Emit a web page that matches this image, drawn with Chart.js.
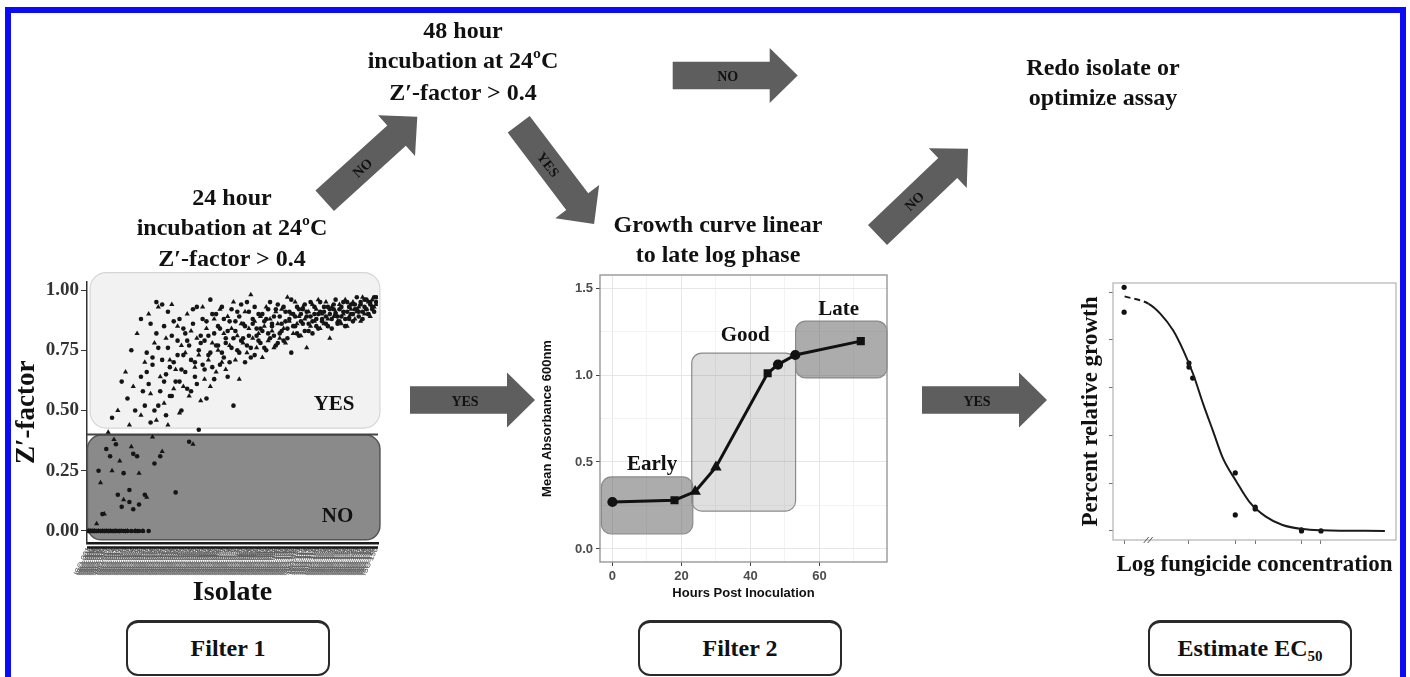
<!DOCTYPE html>
<html>
<head>
<meta charset="utf-8">
<script src="https://cdn.jsdelivr.net/npm/chart.js@4.4.1/dist/chart.umd.min.js"></script>
<style>
  html, body { margin: 0; padding: 0; background: #fff; }
  #page { position: relative; width: 1410px; height: 677px; overflow: hidden; background: #fff;
          font-family: 'Liberation Serif', 'Times New Roman', serif; }
  #frame { position: absolute; left: 5px; top: 7px; width: 1389px; height: 720px;
           border: 6px solid #0b0bf5; z-index: 5; }
  canvas { position: absolute; }
  .lbl { position: absolute; transform: translate(-50%, -50%); white-space: nowrap;
         font-weight: bold; font-size: 24px; line-height: 1; color: #111; }
  .step { position: absolute; top: 620px; width: 204px; height: 56px; box-sizing: border-box;
          border: 2px solid #2a2a2a; border-top-width: 3px; border-radius: 12px; background: #fff;
          display: flex; align-items: center; justify-content: center;
          font-weight: bold; font-size: 24px; color: #111; }
  .step sub { font-size: 15px; vertical-align: -5px; line-height: 0; }
  #arrows { position: absolute; left: 0; top: 0; }
</style>
</head>
<body>
<div id="page">
  <div id="frame"></div>

  <canvas id="zChart" width="400" height="360" style="left:0;top:260px"></canvas>
  <canvas id="growthChart" width="370" height="350" style="left:530px;top:260px"></canvas>
  <canvas id="doseChart" width="350" height="310" style="left:1050px;top:270px"></canvas>

  <svg id="arrows" width="1410" height="677">
    <defs>
      <polygon id="arr" points="0,-13.8 97,-13.8 97,-27.5 125,0 97,27.5 97,13.8 0,13.8" fill="#5e5e5e"/>
    </defs>
    <g transform="translate(324.7,200.8) rotate(-42.2)">
      <use href="#arr"/>
      <text x="50" y="1" text-anchor="middle" dominant-baseline="central" font-family="Liberation Serif" font-weight="bold" font-size="14" fill="#111">NO</text>
    </g>
    <g transform="translate(518.7,124.2) rotate(52.9)">
      <use href="#arr"/>
      <text x="50" y="1" text-anchor="middle" dominant-baseline="central" font-family="Liberation Serif" font-weight="bold" font-size="14" fill="#111">YES</text>
    </g>
    <g transform="translate(672.7,75.5)">
      <use href="#arr"/>
      <text x="55" y="1" text-anchor="middle" dominant-baseline="central" font-family="Liberation Serif" font-weight="bold" font-size="14" fill="#111">NO</text>
    </g>
    <g transform="translate(877.5,235) rotate(-43.6)">
      <use href="#arr"/>
      <text x="50" y="1" text-anchor="middle" dominant-baseline="central" font-family="Liberation Serif" font-weight="bold" font-size="14" fill="#111">NO</text>
    </g>
    <g transform="translate(410,400)">
      <use href="#arr"/>
      <text x="55" y="1" text-anchor="middle" dominant-baseline="central" font-family="Liberation Serif" font-weight="bold" font-size="14" fill="#111">YES</text>
    </g>
    <g transform="translate(922,400)">
      <use href="#arr"/>
      <text x="55" y="1" text-anchor="middle" dominant-baseline="central" font-family="Liberation Serif" font-weight="bold" font-size="14" fill="#111">YES</text>
    </g>
  </svg>

  <div class="lbl" style="left:463px;top:30px">48 hour</div>
  <div class="lbl" style="left:463px;top:60px">incubation at 24ºC</div>
  <div class="lbl" style="left:463px;top:92px">Z′-factor &gt; 0.4</div>

  <div class="lbl" style="left:232px;top:197px">24 hour</div>
  <div class="lbl" style="left:232px;top:227px">incubation at 24ºC</div>
  <div class="lbl" style="left:232px;top:258px">Z′-factor &gt; 0.4</div>

  <div class="lbl" style="left:1103px;top:67px">Redo isolate or</div>
  <div class="lbl" style="left:1103px;top:97px">optimize assay</div>

  <div class="lbl" style="left:718px;top:224px">Growth curve linear</div>
  <div class="lbl" style="left:718px;top:254px">to late log phase</div>

  <div class="step" style="left:126px"><span>Filter 1</span></div>
  <div class="step" style="left:638px"><span>Filter 2</span></div>
  <div class="step" style="left:1148px"><span>Estimate EC<sub>50</sub></span></div>
</div>

<script>
// ---------- Filter 1: Z'-factor of each isolate, three readings ----------
const isolateCount = 150;
const zRepA = [
  0, 0, 0, 0, 0, 0.25, 0, 0.07, 0, 0.34,
  0, 0.31, 0.47, 0, 0.36, 0.15, 0, 0.62, 0.24, 0,
  0.55, 0.12, 0.75, 0.32, 0.50, 0, 0.11, 0.88, 0.58, 0.15,
  0.66, 0, 0.45, 0.72, 0.28, 0.82, 0.52, 0.31, 0.94, 0.62,
  0.48, 0.76, 0.68, 0.56, 0.87, 0.16, 0.73, 0.62, 0.50, 0.84,
  0.66, 0.79, 0.37, 0.58, 0.92, 0.70, 0.61, 0.42, 0.78, 0.88,
  0.67, 0.55, 0.81, 0.74, 0.90, 0.63, 0.77, 0.85, 0.69, 0.93,
  0.72, 0.80, 0.64, 0.87, 0.76, 0.52, 0.83, 0.91, 0.74, 0.79,
  0.86, 0.70, 0.95, 0.81, 0.76, 0.88, 0.73, 0.84, 0.90, 0.78,
  0.83, 0.87, 0.75, 0.92, 0.80, 0.85, 0.89, 0.77, 0.94, 0.82,
  0.86, 0.79, 0.91, 0.84, 0.88, 0.74, 0.90, 0.85, 0.93, 0.81,
  0.87, 0.92, 0.83, 0.89, 0.86, 0.95, 0.82, 0.90, 0.88, 0.84,
  0.91, 0.87, 0.93, 0.89, 0.85, 0.92, 0.88, 0.94, 0.90, 0.86,
  0.92, 0.89, 0.95, 0.88, 0.91, 0.93, 0.90, 0.87, 0.94, 0.92,
  0.89, 0.95, 0.91, 0.93, 0.96, 0.90, 0.94, 0.92, 0.97, 0.95
];
const zRepB = [
  0, 0, 0, 0, 0.03, 0, 0.20, 0, 0.07, 0,
  0.41, 0, 0.25, 0.38, 0, 0.50, 0.29, 0, 0.13, 0.66,
  0, 0.44, 0.35, 0.60, 0, 0.82, 0.24, 0.48, 0, 0.70,
  0.14, 0.90, 0.57, 0.39, 0.78, 0.46, 0.93, 0.64, 0.33, 0.53,
  0.80, 0.44, 0.71, 0.94, 0.59, 0.67, 0.85, 0.49, 0.77, 0.60,
  0.74, 0.90, 0.56, 0.83, 0.36, 0.68, 0.80, 0.73, 0.54, 0.93,
  0.63, 0.84, 0.71, 0.60, 0.78, 0.88, 0.66, 0.75, 0.92, 0.70,
  0.82, 0.67, 0.89, 0.77, 0.84, 0.95, 0.71, 0.81, 0.63, 0.86,
  0.78, 0.91, 0.74, 0.84, 0.98, 0.80, 0.87, 0.76, 0.82, 0.89,
  0.72, 0.85, 0.93, 0.79, 0.88, 0.83, 0.76, 0.91, 0.86, 0.80,
  0.92, 0.84, 0.78, 0.97, 0.87, 0.90, 0.82, 0.95, 0.86, 0.89,
  0.81, 0.93, 0.88, 0.76, 0.91, 0.85, 0.94, 0.87, 0.92, 0.96,
  0.84, 0.90, 0.86, 0.95, 0.88, 0.80, 0.93, 0.89, 0.91, 0.87,
  0.94, 0.86, 0.90, 0.96, 0.85, 0.89, 0.92, 0.95, 0.88, 0.91,
  0.93, 0.87, 0.97, 0.90, 0.92, 0.95, 0.89, 0.96, 0.93, 0.94
];
const zRepC = [
  0, 0, 0, 0, 0, 0, 0, 0, 0, 0,
  0, 0, 0, 0, 0, 0, 0, 0.10, 0, 0,
  0, 0.17, 0, 0.09, 0, 0.31, 0, 0.64, 0, 0.52,
  0.74, 0.61, 0.86, 0.69, 0.50, 0.95, 0.76, 0.58, 0.71, 0.85,
  0.65, 0.91, 0.56, 0.81, 0.70, 0.62, 0.79, 0.88, 0.67, 0.73,
  0.82, 0.59, 0.77, 0.71, 0.86, 0.64, 0.93, 0.75, 0.81, 0.69,
  0.79, 0.87, 0.73, 0.96, 0.68, 0.82, 0.90, 0.77, 0.84, 0.74,
  0.88, 0.78, 0.83, 0.70, 0.92, 0.80, 0.87, 0.75, 0.89, 0.94,
  0.80, 0.85, 0.77, 0.91, 0.72, 0.86, 0.93, 0.81, 0.79, 0.84,
  0.90, 0.76, 0.88, 0.82, 0.95, 0.86, 0.81, 0.92, 0.78, 0.89,
  0.83, 0.93, 0.87, 0.80, 0.91, 0.96, 0.85, 0.89, 0.82, 0.92,
  0.90, 0.86, 0.94, 0.91, 0.83, 0.89, 0.87, 0.93, 0.85, 0.90,
  0.95, 0.88, 0.91, 0.86, 0.93, 0.90, 0.84, 0.92, 0.96, 0.89,
  0.87, 0.93, 0.91, 0.85, 0.95, 0.88, 0.94, 0.90, 0.92, 0.97,
  0.91, 0.94, 0.88, 0.96, 0.92, 0.90, 0.95, 0.93, 0.91, 0.97
];
const zThreshold = 0.4;

// ---------- Filter 2: growth curve ----------
const hours = [0, 18, 24, 30, 45, 48, 53, 72];
const absorbance = [0.27, 0.28, 0.33, 0.47, 1.01, 1.06, 1.115, 1.195];
const phaseNames = ['Early', 'Good', 'Late'];
const phaseHours = [[-3.2, 23.3], [23.0, 53.1], [53.1, 79.6]];
const phaseAbs = [[0.086, 0.414], [0.218, 1.126], [0.983, 1.31]];

// ---------- EC50: dose response ----------
const doseLevels = [-3.4, -2, -1, -0.57, 0.43, 0.85];
const obsLogConc = [-3.4, -3.4, -2, -2, -1.92, -1, -1, -0.57, -0.57, 0.43, 0.43, 0.85];
const obsGrowth = [102, 91.6, 70.3, 68.6, 64, 24.3, 6.7, 10, 9.2, 0.4, 0, 0];
const fitLogConc = [-3.39, -2.87, -2.62, -2.34, -2.12, -1.91, -1.69, -1.48, -1.27, -0.98, -0.70, -0.34, 0.02, 0.45, 0.88, 2.23];
const fitGrowth = [98.2, 95.1, 91, 83.9, 75.5, 65.7, 53, 41.8, 30.6, 20.8, 12.3, 6, 2.5, 0.8, 0.3, 0];

const SERIF = 'Liberation Serif';
const SANS = 'Liberation Sans';

function roundBox(ctx, x0, y0, x1, y1, r) {
  const x = Math.min(x0, x1), y = Math.min(y0, y1);
  const w = Math.abs(x1 - x0), h = Math.abs(y1 - y0);
  ctx.beginPath();
  ctx.moveTo(x + r, y);
  ctx.arcTo(x + w, y, x + w, y + h, r);
  ctx.arcTo(x + w, y + h, x, y + h, r);
  ctx.arcTo(x, y + h, x, y, r);
  ctx.arcTo(x, y, x + w, y, r);
  ctx.closePath();
}

const noLegend = { legend: { display: false }, tooltip: { enabled: false } };

// ---------------- chart 1 ----------------
const zRegions = {
  id: 'zRegions',
  beforeDatasetsDraw(chart) {
    const { ctx, chartArea: a, scales: { x, y } } = chart;
    ctx.save();
    roundBox(ctx, x.getPixelForValue(1.6), y.getPixelForValue(1.072), x.getPixelForValue(152), y.getPixelForValue(0.427), 16);
    ctx.fillStyle = '#f2f2f2'; ctx.fill();
    ctx.strokeStyle = '#d6d6d6'; ctx.lineWidth = 1.2; ctx.stroke();

    roundBox(ctx, x.getPixelForValue(0.2), y.getPixelForValue(0.398), x.getPixelForValue(152), y.getPixelForValue(-0.037), 14);
    ctx.fillStyle = '#8a8a8a'; ctx.fill();
    ctx.strokeStyle = '#555'; ctx.lineWidth = 1.5; ctx.stroke();

    ctx.beginPath();
    ctx.moveTo(a.left, y.getPixelForValue(zThreshold));
    ctx.lineTo(a.right, y.getPixelForValue(zThreshold));
    ctx.strokeStyle = '#444'; ctx.lineWidth = 2; ctx.stroke();

    ctx.fillStyle = '#111';
    ctx.font = `bold 21px "${SERIF}"`;
    ctx.textAlign = 'center'; ctx.textBaseline = 'middle';
    ctx.fillText('YES', x.getPixelForValue(128.2), y.getPixelForValue(0.523));
    ctx.fillText('NO', x.getPixelForValue(130), y.getPixelForValue(0.058));
    ctx.restore();
  },
  afterDraw(chart) {
    const { ctx, chartArea: a } = chart;
    ctx.save();
    ctx.beginPath();
    ctx.moveTo(a.left, a.bottom + 4.5);
    ctx.lineTo(a.right, a.bottom + 4.5);
    ctx.strokeStyle = '#1a1a1a'; ctx.lineWidth = 2.5; ctx.stroke();
    ctx.restore();
  }
};

const isolateIdx = zRepA.map((_, i) => i + 1);
const zPoints = arr => isolateIdx.map((n, i) => ({ x: n, y: arr[i] }));

new Chart(document.getElementById('zChart'), {
  type: 'scatter',
  data: {
    datasets: [
      { data: zPoints(zRepA), pointStyle: 'circle', pointRadius: 2.3, backgroundColor: '#151515', borderWidth: 0 },
      { data: zPoints(zRepB), pointStyle: 'triangle', pointRadius: 3, backgroundColor: '#151515', borderWidth: 0 },
      { data: zPoints(zRepC), pointStyle: 'circle', pointRadius: 2.3, backgroundColor: '#151515', borderWidth: 0 }
    ]
  },
  options: {
    responsive: false,
    animation: false,
    layout: { padding: { left: 0, right: 22, top: 21.6, bottom: 10.2 } },
    plugins: noLegend,
    scales: {
      x: {
        type: 'linear', min: 0, max: 151,
        grid: { display: false, tickLength: 2 },
        border: { display: true, color: '#1a1a1a', width: 2.5 },
        ticks: {
          stepSize: 1, autoSkip: false, minRotation: 65, maxRotation: 65, padding: 1,
          font: { family: SANS, size: 8 }, color: '#555',
          callback: v => (v >= 1 && v <= isolateCount) ? 'ISO-' + String(v).padStart(3, '0') : ''
        },
        title: { display: true, text: 'Isolate', color: '#111',
                 font: { family: SERIF, size: 28, weight: 'bold' }, padding: { top: 0, bottom: 0 } },
        afterFit: s => { s.height = 66.8; }
      },
      y: {
        min: -0.05, max: 1.035,
        ticks: { stepSize: 0.25, includeBounds: false, padding: 2, color: '#333',
                 font: { family: SERIF, size: 19, weight: 'bold' }, callback: v => v.toFixed(2) },
        grid: { drawOnChartArea: false, tickLength: 6, color: '#333' },
        border: { color: '#333', width: 1.5 },
        title: { display: true, text: 'Z′-factor', color: '#111',
                 font: { family: SERIF, size: 27, weight: 'bold' }, padding: { top: 10.8, bottom: 0 } },
        afterFit: s => { s.width = 87; }
      }
    }
  },
  plugins: [zRegions]
});

// ---------------- chart 2 ----------------
const isMult = (v, m) => Math.abs(Math.round(v / m) * m - v) < 1e-6;

const phasePlugin = {
  id: 'phases',
  beforeDatasetsDraw(chart) {
    const { ctx, scales: { x, y } } = chart;
    ctx.save();
    phaseNames.forEach((name, i) => {
      roundBox(ctx, x.getPixelForValue(phaseHours[i][0]), y.getPixelForValue(phaseAbs[i][1]),
                    x.getPixelForValue(phaseHours[i][1]), y.getPixelForValue(phaseAbs[i][0]), 10);
      ctx.fillStyle = i === 1 ? 'rgba(95,95,95,0.2)' : 'rgba(95,95,95,0.52)';
      ctx.fill();
      ctx.strokeStyle = '#8a8a8a'; ctx.lineWidth = 1.2; ctx.stroke();
    });
    ctx.restore();
  },
  afterDraw(chart) {
    const { ctx, chartArea: a, scales: { x, y } } = chart;
    const labelAt = [[11.5, 0.483], [38.5, 1.224], [65.6, 1.374]];
    ctx.save();
    ctx.strokeStyle = '#8f8f8f'; ctx.lineWidth = 1.3;
    ctx.strokeRect(a.left, a.top, a.right - a.left, a.bottom - a.top);
    ctx.fillStyle = '#111';
    ctx.font = `bold 21px "${SERIF}"`;
    ctx.textAlign = 'center'; ctx.textBaseline = 'middle';
    phaseNames.forEach((name, i) => {
      ctx.fillText(name, x.getPixelForValue(labelAt[i][0]), y.getPixelForValue(labelAt[i][1]));
    });
    ctx.restore();
  }
};

new Chart(document.getElementById('growthChart'), {
  type: 'line',
  data: {
    datasets: [{
      data: hours.map((h, i) => ({ x: h, y: absorbance[i] })),
      borderColor: '#111', borderWidth: 3, tension: 0,
      pointStyle: ['circle', 'rect', 'triangle', 'triangle', 'rect', 'circle', 'circle', 'rect'],
      pointRadius: 3.6, backgroundColor: '#111', pointBorderColor: '#111'
    }]
  },
  options: {
    responsive: false,
    animation: false,
    layout: { padding: { left: 0, right: 13, top: 15, bottom: 9.2 } },
    plugins: noLegend,
    scales: {
      x: {
        type: 'linear', min: -3.6, max: 79.6,
        ticks: { stepSize: 10, includeBounds: false, padding: 3, color: '#4d4d4d',
                 font: { family: SANS, size: 13, weight: 'bold' },
                 callback: v => isMult(v, 20) ? v : '' },
        grid: { color: c => isMult(c.tick.value, 20) ? '#e6e6e6' : '#f3f3f3',
                tickColor: c => isMult(c.tick.value, 20) ? '#444' : 'rgba(0,0,0,0)', tickLength: 4 },
        border: { display: false },
        title: { display: true, text: 'Hours Post Inoculation', color: '#111',
                 font: { family: SANS, size: 13, weight: 'bold' }, padding: { top: 0, bottom: 0 } },
        afterFit: s => { s.height = 38.8; }
      },
      y: {
        min: -0.075, max: 1.575,
        ticks: { stepSize: 0.25, includeBounds: false, padding: 3, color: '#4d4d4d',
                 font: { family: SANS, size: 13, weight: 'bold' },
                 callback: v => isMult(v, 0.5) ? v.toFixed(1) : '' },
        grid: { color: c => isMult(c.tick.value, 0.5) ? '#e6e6e6' : '#f3f3f3',
                tickColor: c => isMult(c.tick.value, 0.5) ? '#444' : 'rgba(0,0,0,0)', tickLength: 4 },
        border: { display: false },
        title: { display: true, text: 'Mean Absorbance 600nm', color: '#111',
                 font: { family: SANS, size: 13, weight: 'bold' }, padding: { top: 9.2, bottom: 0 } },
        afterFit: s => { s.width = 70; }
      }
    }
  },
  plugins: [phasePlugin]
});

// ---------------- chart 3 ----------------
const dosePanel = {
  id: 'dosePanel',
  afterDraw(chart) {
    const { ctx, chartArea: a, scales: { x } } = chart;
    ctx.save();
    ctx.strokeStyle = '#b3b3b3'; ctx.lineWidth = 1.2;
    ctx.strokeRect(a.left, a.top, a.right - a.left, a.bottom - a.top);
    // axis break between control and first dose
    const bx = x.getPixelForValue(-2.88);
    ctx.strokeStyle = '#555'; ctx.lineWidth = 1;
    [-2, 2].forEach(d => {
      ctx.beginPath();
      ctx.moveTo(bx + d - 2.5, a.bottom + 3);
      ctx.lineTo(bx + d + 2.5, a.bottom - 3);
      ctx.stroke();
    });
    ctx.restore();
  }
};

new Chart(document.getElementById('doseChart'), {
  type: 'line',
  data: {
    datasets: [
      {
        data: fitLogConc.map((c, i) => ({ x: c, y: fitGrowth[i] })),
        borderColor: '#1a1a1a', borderWidth: 2, pointRadius: 0,
        cubicInterpolationMode: 'monotone',
        segment: { borderDash: c => c.p1.parsed.x <= fitLogConc[1] ? [6, 4] : undefined }
      },
      {
        data: obsLogConc.map((c, i) => ({ x: c, y: obsGrowth[i] })),
        showLine: false, pointRadius: 2.6, pointStyle: 'circle',
        backgroundColor: '#111', borderWidth: 0
      }
    ]
  },
  options: {
    responsive: false,
    animation: false,
    layout: { padding: { left: 0, right: 4, top: 13, bottom: 1.2 } },
    plugins: noLegend,
    scales: {
      x: {
        type: 'linear', min: -3.64, max: 2.47,
        afterBuildTicks: s => { s.ticks = doseLevels.map(v => ({ value: v })); },
        ticks: { display: false },
        grid: { drawOnChartArea: false, tickLength: 4, color: '#777' },
        border: { display: false },
        title: { display: true, text: 'Log fungicide concentration', color: '#111',
                 font: { family: SERIF, size: 23, weight: 'bold' }, padding: { top: 0, bottom: 0 } },
        afterFit: s => { s.height = 38.8; }
      },
      y: {
        min: -3.8, max: 103.8,
        ticks: { display: false, stepSize: 20, includeBounds: false },
        grid: { drawOnChartArea: false, tickLength: 4, color: '#777' },
        border: { display: false },
        title: { display: true, text: 'Percent relative growth', color: '#111',
                 font: { family: SERIF, size: 23, weight: 'bold' }, padding: { top: 27.2, bottom: 0 } },
        afterFit: s => { s.width = 63; }
      }
    }
  },
  plugins: [dosePanel]
});
</script>
</body>
</html>
